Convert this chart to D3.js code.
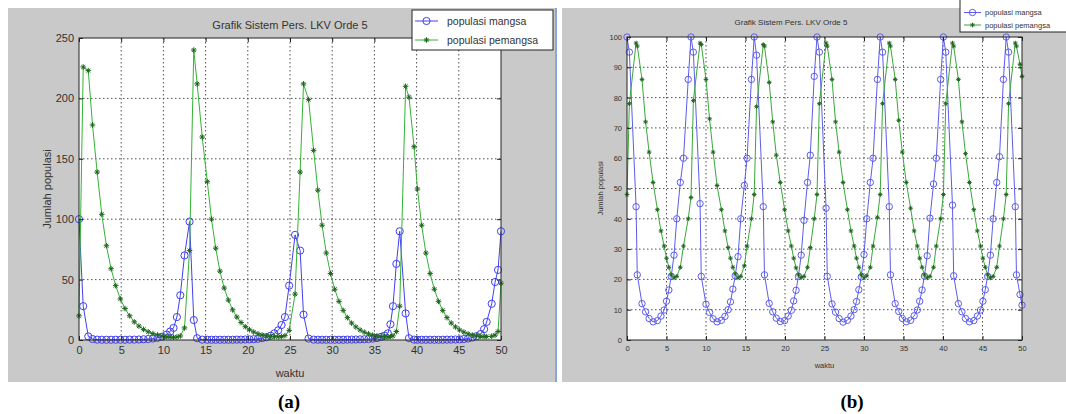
<!DOCTYPE html>
<html>
<head>
<meta charset="utf-8">
<script src="https://cdn.jsdelivr.net/npm/d3@7"></script>
<style>
  html, body { margin: 0; padding: 0; background: #fff; }
  svg { display: block; }
  text { font-family: "Liberation Sans", Arial, Helvetica, sans-serif; }
</style>
</head>
<body>
<svg id="fig" width="1066" height="414"></svg>
<script>
// ---------- Panel (a): waktu, populasi mangsa, populasi pemangsa ----------
const tA = [
  0, 0.5, 1.1, 1.6, 2.15, 2.7, 3.25, 3.8, 4.35, 4.9, 5.45, 6.0, 6.55, 7.1, 7.65, 8.2, 8.75, 9.3, 9.85, 10.4, 10.8, 11.2, 11.6, 12.0, 12.5, 13.1,
  13.6, 14.0, 14.6, 15.2, 15.7, 16.2, 16.7, 17.2, 17.7, 18.2, 18.7, 19.2, 19.7, 20.2, 20.7, 21.2, 21.7, 22.2, 22.7, 23.15, 23.6, 24.0, 24.4, 24.9, 25.6,
  26.2, 26.6, 27.2, 27.8, 28.3, 28.8, 29.3, 29.8, 30.3, 30.8, 31.3, 31.8, 32.3, 32.8, 33.3, 33.8, 34.3, 34.8, 35.3, 35.8, 36.2, 36.6, 36.9, 37.2, 37.6, 38.0,
  38.7, 39.1, 39.7, 40.1, 40.6, 41.1, 41.6, 42.1, 42.6, 43.1, 43.6, 44.1, 44.6, 45.1, 45.6, 46.1, 46.6, 47.1, 47.6, 48.0, 48.3, 48.9, 49.3, 49.65, 50.0
];
const preyA = [
  100, 28, 3, 0.8, 0.3, 0.2, 0.2, 0.2, 0.2, 0.2, 0.2, 0.3, 0.3, 0.4, 0.6, 0.8, 1.2, 1.8, 2.8, 4.5, 7, 10, 19, 37, 70, 98,
  16.5, 1.5, 0.3, 0.2, 0.2, 0.2, 0.2, 0.2, 0.2, 0.2, 0.3, 0.3, 0.4, 0.5, 0.7, 1.0, 1.5, 2.3, 3.5, 5.5, 8, 12.4, 19, 45, 87,
  74, 21, 1.2, 0.3, 0.2, 0.2, 0.2, 0.2, 0.2, 0.2, 0.2, 0.3, 0.3, 0.4, 0.5, 0.6, 0.8, 1.1, 1.6, 2.6, 3.6, 5.5, 13, 28, 63, 90,
  22, 1.5, 0.3, 0.2, 0.2, 0.2, 0.2, 0.2, 0.2, 0.2, 0.3, 0.3, 0.4, 0.5, 0.8, 1.2, 2, 3.2, 5, 9, 15, 30, 48, 58, 90
];
const predA = [
  20, 226, 223, 178, 139, 104, 78, 59, 45, 34, 26, 20, 15, 11.5, 8.8, 6.8, 5.3, 4.2, 3.3, 2.7, 2.4, 2.3, 2.5, 3.3, 10, 74,
  240, 212, 168, 131, 100, 76, 57, 43, 33, 25, 19, 14.5, 11, 8.5, 6.6, 5.2, 4.2, 3.5, 3.0, 2.7, 2.6, 2.8, 3.6, 8, 38,
  139, 212, 199, 157, 124, 95, 72, 55, 42, 32, 24.5, 18.5, 14, 10.8, 8.3, 6.5, 5.1, 4.1, 3.4, 2.9, 2.7, 2.6, 2.8, 3.4, 7, 28,
  210, 201, 160, 125, 95, 72, 55, 42, 32, 24.5, 18.5, 14, 10.8, 8.3, 6.5, 5.1, 4.1, 3.4, 3.0, 2.8, 2.8, 3.1, 4, 7, 47
];

// ---------- Panel (b) ----------
const tB = [
  0, 0.3, 1.15, 1.3, 1.9, 2.35, 2.8, 3.3, 3.85, 4.3, 4.7, 5.0, 5.3, 5.6, 5.95, 6.3, 6.75, 7.15, 7.75,
  8.1, 8.4, 9.25, 9.4, 10.0, 10.45, 10.9, 11.4, 11.95, 12.4, 12.8, 13.1, 13.4, 13.7, 14.05, 14.4, 14.85, 15.2, 15.75,
  16.1, 16.4, 17.25, 17.4, 18.0, 18.45, 18.9, 19.4, 19.95, 20.4, 20.8, 21.1, 21.4, 21.7, 22.05, 22.4, 22.85, 23.2, 23.7,
  24.05, 24.35, 25.2, 25.35, 25.95, 26.4, 26.85, 27.35, 27.9, 28.35, 28.75, 29.05, 29.35, 29.65, 30.0, 30.35, 30.8, 31.15, 31.7,
  32.05, 32.35, 33.2, 33.35, 33.95, 34.4, 34.85, 35.35, 35.9, 36.35, 36.75, 37.05, 37.35, 37.65, 38.0, 38.35, 38.8, 39.15, 39.7,
  40.05, 40.35, 41.2, 41.35, 41.95, 42.4, 42.85, 43.35, 43.9, 44.35, 44.75, 45.05, 45.35, 45.65, 46.0, 46.35, 46.8, 47.15, 47.65,
  48.0, 48.3, 49.15, 49.3, 49.75, 50.0
];
const preyB = [
  100, 95, 44, 21.5, 12, 9.3, 7.1, 6.0, 6.4, 7.9, 9.9, 12.8, 16.5, 21, 28, 40, 52, 60, 86,
  100, 95, 45, 21, 11.8, 9.1, 7.0, 6.0, 6.5, 7.8, 10, 12.6, 16.8, 21.2, 27.5, 40, 51, 60, 86,
  100, 94, 44, 21.5, 12.1, 9.3, 7.2, 6.1, 6.4, 7.9, 9.8, 12.9, 16.4, 21, 28, 39.5, 52, 61, 87,
  100, 95, 43.5, 21, 11.9, 9.2, 7.1, 5.9, 6.5, 7.9, 10, 12.7, 16.6, 20.8, 28.2, 40, 52, 60, 86,
  100, 95, 44, 21.5, 12, 9.4, 7.1, 6.0, 6.5, 8.0, 9.9, 12.8, 16.5, 21.1, 27.8, 40.2, 51.5, 60, 86,
  100, 95, 44.5, 21.2, 12, 9.3, 7.1, 6.0, 6.4, 7.9, 9.9, 12.8, 16.6, 21, 28, 40, 52, 60.5, 86,
  100, 95, 44, 21.5, 15, 11.5
];
const predB = [
  48, 78, 98, 97, 86, 72, 62, 52, 43, 36, 31, 27, 24, 21.5, 20.5, 21, 24, 31, 40,
  47, 79, 98, 97.5, 86, 73, 62, 51, 43, 36, 30.5, 27, 24, 21.8, 20.5, 21, 24.5, 31, 40,
  48, 77, 97.5, 97, 85, 72, 61, 52, 43, 36, 31, 27, 23.8, 21.5, 20.6, 21, 24, 30.5, 40,
  48, 78, 98, 97, 86, 72, 62, 52, 43, 36, 31, 27, 24, 21.5, 20.5, 21.2, 24, 31, 40.5,
  48, 78, 98, 97, 86, 72.5, 62, 52, 43.5, 36, 31, 27, 24, 21.5, 20.5, 21, 24, 31, 40,
  48, 78, 98, 97, 86, 72, 61.5, 52, 43, 36, 31, 27, 24, 21.5, 20.5, 21, 24, 31, 40,
  48, 78, 98, 97, 91, 87
];

// ---------- Axis ticks and labels ----------
const xTicks = [0, 5, 10, 15, 20, 25, 30, 35, 40, 45, 50];
const yTicksA = [0, 50, 100, 150, 200, 250];
const yTicksB = [0, 10, 20, 30, 40, 50, 60, 70, 80, 90, 100];
const titleText = "Grafik Sistem Pers. LKV Orde 5";
const xLabelText = "waktu";
const yLabelText = "Jumlah populasi";
const legendNames = ["populasi mangsa", "populasi pemangsa"];

const svg = d3.select("#fig");

// separator between the two figure windows
svg.append("rect").attr("x", 555).attr("y", 8).attr("width", 2).attr("height", 374).attr("fill", "#8aa6d6");

function drawPanel(o) {
  const g = svg.append("g");
  const [bx0, by0, bx1, by1] = o.bg;
  g.append("rect").attr("x", bx0).attr("y", by0).attr("width", bx1 - bx0).attr("height", by1 - by0).attr("fill", "#c9c9c9");

  const [L, T, R, B] = o.plot;
  const x = d3.scaleLinear().domain([0, 50]).range([L, R]);
  const y = d3.scaleLinear().domain([0, o.yMax]).range([B, T]);

  g.append("rect").attr("x", L).attr("y", T).attr("width", R - L).attr("height", B - T).attr("fill", "#ffffff");

  const clipId = "clip" + o.id;
  svg.append("clipPath").attr("id", clipId)
    .append("rect").attr("x", L - 6).attr("y", T - 6).attr("width", R - L + 12).attr("height", B - T + 12);

  // dotted grid
  const grid = g.append("g").attr("stroke", o.gridColor).attr("stroke-width", 1)
    .attr("stroke-dasharray", o.gridDash).attr("opacity", 0.85);
  xTicks.slice(1, -1).forEach(v => grid.append("line").attr("x1", x(v)).attr("x2", x(v)).attr("y1", T).attr("y2", B));
  o.yTicks.slice(1, -1).forEach(v => grid.append("line").attr("x1", L).attr("x2", R).attr("y1", y(v)).attr("y2", y(v)));

  const plotG = g.append("g").attr("clip-path", `url(#${clipId})`);
  const idx = d3.range(o.t.length);
  const line = (vals) => d3.line().x(i => x(o.t[i])).y(i => y(vals[i]))(idx);

  // prey: blue line with open circles
  plotG.append("path").attr("d", line(o.prey)).attr("fill", "none")
    .attr("stroke", o.blue).attr("stroke-width", 1);
  plotG.append("g").selectAll("circle").data(idx).join("circle")
    .attr("cx", i => x(o.t[i])).attr("cy", i => y(o.prey[i])).attr("r", o.circleR)
    .attr("fill", "none").attr("stroke", o.blue).attr("stroke-width", 1);

  // predator: green line with star markers
  plotG.append("path").attr("d", line(o.pred)).attr("fill", "none")
    .attr("stroke", o.green).attr("stroke-width", 1);
  const s = o.starR, d = s * 0.7;
  const star = `M${-s},0H${s}M0,${-s}V${s}M${-d},${-d}L${d},${d}M${-d},${d}L${d},${-d}`;
  plotG.append("g").selectAll("path").data(idx).join("path")
    .attr("d", star)
    .attr("transform", i => `translate(${x(o.t[i])},${y(o.pred[i])})`)
    .attr("fill", "none").attr("stroke", o.greenDark).attr("stroke-width", 1);

  // axes with inward ticks
  const fmt = d3.format("d");
  const axB = g.append("g").attr("transform", `translate(0,${B})`)
    .call(d3.axisBottom(x).tickValues(xTicks).tickFormat(fmt).tickSizeInner(-4).tickSizeOuter(0).tickPadding(o.padX));
  const axL = g.append("g").attr("transform", `translate(${L},0)`)
    .call(d3.axisLeft(y).tickValues(o.yTicks).tickFormat(fmt).tickSizeInner(-4).tickSizeOuter(0).tickPadding(o.padY));
  const axT = g.append("g").attr("transform", `translate(0,${T})`)
    .call(d3.axisTop(x).tickValues(xTicks).tickFormat("").tickSizeInner(-4).tickSizeOuter(0));
  const axR = g.append("g").attr("transform", `translate(${R},0)`)
    .call(d3.axisRight(y).tickValues(o.yTicks).tickFormat("").tickSizeInner(-4).tickSizeOuter(0));
  [axB, axL, axT, axR].forEach(a => {
    a.select(".domain").remove();
    a.selectAll("line").attr("stroke", "#222");
    a.selectAll("text").attr("fill", "#333").style("font-size", o.tickFont + "px")
      .style("font-family", '"Liberation Sans", Arial, sans-serif');
  });

  g.append("rect").attr("x", L).attr("y", T).attr("width", R - L).attr("height", B - T)
    .attr("fill", "none").attr("stroke", "#222").attr("stroke-width", 1);

  // title and axis labels
  g.append("text").attr("x", o.titleX).attr("y", o.titleY).attr("text-anchor", "middle")
    .attr("fill", "#333").style("font-size", o.titleFont + "px").text(titleText);
  g.append("text").attr("x", (L + R) / 2).attr("y", o.xLabelY).attr("text-anchor", "middle")
    .attr("fill", "#333").style("font-size", o.labelFont + "px").text(xLabelText);
  g.append("text").attr("transform", `translate(${o.yLabelX},${(T + B) / 2}) rotate(-90)`)
    .attr("text-anchor", "middle").attr("fill", "#333").style("font-size", o.labelFont + "px").text(yLabelText);

  // legend
  const [lx0, ly0, lx1, ly1] = o.legend;
  g.append("rect").attr("x", lx0).attr("y", ly0).attr("width", lx1 - lx0).attr("height", ly1 - ly0)
    .attr("fill", "#fff").attr("stroke", "#222").attr("stroke-width", 1);
  o.legendRows.forEach((ry, k) => {
    const col = k === 0 ? o.blue : o.green;
    g.append("line").attr("x1", o.legLine[0]).attr("x2", o.legLine[1]).attr("y1", ry).attr("y2", ry)
      .attr("stroke", col).attr("stroke-width", 1);
    const mx = (o.legLine[0] + o.legLine[1]) / 2;
    if (k === 0) {
      g.append("circle").attr("cx", mx).attr("cy", ry).attr("r", o.circleR).attr("fill", "none")
        .attr("stroke", o.blue).attr("stroke-width", 1);
    } else {
      g.append("path").attr("d", star).attr("transform", `translate(${mx},${ry})`)
        .attr("fill", "none").attr("stroke", o.greenDark).attr("stroke-width", 1);
    }
    g.append("text").attr("x", o.legText).attr("y", ry).attr("dy", "0.35em")
      .attr("fill", "#333").style("font-size", o.legFont + "px").text(legendNames[k]);
  });
}

drawPanel({
  id: "A", bg: [8, 8, 555, 382], plot: [79, 38, 501, 340], yMax: 250, yTicks: yTicksA,
  t: tA, prey: preyA, pred: predA,
  blue: "#4040f0", green: "#34b234", greenDark: "#1d661d",
  circleR: 3.6, starR: 2.8, gridColor: "#333", gridDash: "1.5,2.5",
  tickFont: 11, padX: 6, padY: 5,
  titleX: 290, titleY: 29, titleFont: 11,
  xLabelY: 377, yLabelX: 51, labelFont: 11,
  legend: [412, 10, 553, 50], legendRows: [21, 40], legLine: [415, 438], legText: 447, legFont: 10.5
});

drawPanel({
  id: "B", bg: [562, 8, 1066, 382], plot: [627, 37, 1022, 340], yMax: 100, yTicks: yTicksB,
  t: tB, prey: preyB, pred: predB,
  blue: "#5c5cec", green: "#3aa83a", greenDark: "#226622",
  circleR: 3.2, starR: 2.3, gridColor: "#333", gridDash: "1.5,2.5",
  tickFont: 7.5, padX: 6, padY: 5,
  titleX: 791, titleY: 25, titleFont: 8,
  xLabelY: 368, yLabelX: 603, labelFont: 7.5,
  legend: [960, -5, 1070, 32], legendRows: [12.5, 25], legLine: [964, 981], legText: 985, legFont: 7.5
});

// figure captions
svg.append("text").attr("x", 289).attr("y", 408).attr("text-anchor", "middle")
  .style("font-family", '"Liberation Serif", "Times New Roman", serif').style("font-weight", "bold")
  .style("font-size", "19px").attr("fill", "#000").text("(a)");
svg.append("text").attr("x", 852).attr("y", 408).attr("text-anchor", "middle")
  .style("font-family", '"Liberation Serif", "Times New Roman", serif').style("font-weight", "bold")
  .style("font-size", "19px").attr("fill", "#000").text("(b)");
</script>
</body>
</html>
